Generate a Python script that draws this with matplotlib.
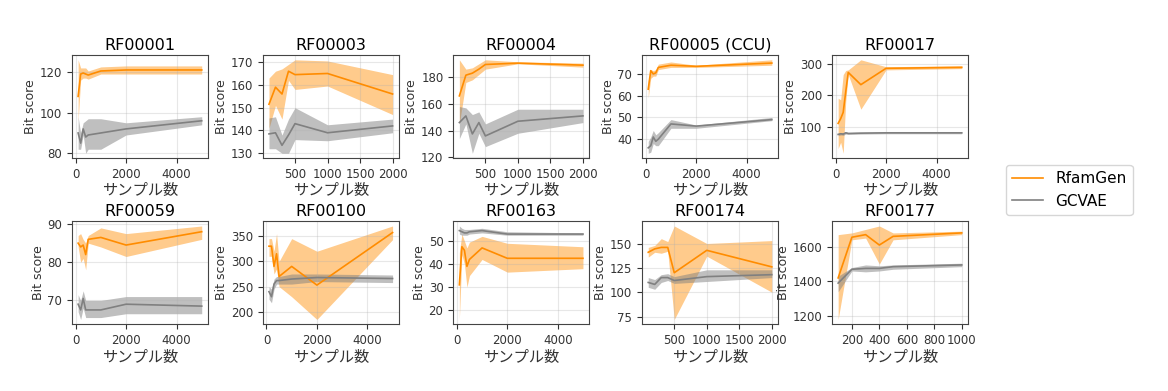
import matplotlib
matplotlib.use("Agg")
import matplotlib.pyplot as plt
from matplotlib.ticker import MultipleLocator

plt.rcParams['font.family'] = ['DejaVu Sans', 'Noto Sans CJK JP']

# サンプル数
x_5000 = [100, 200, 300, 400, 500, 1000, 2000, 5000]
x_2000 = [100, 200, 300, 400, 500, 1000, 2000]
x_1000 = [100, 200, 300, 400, 500, 1000]

titles = ['RF00001', 'RF00003', 'RF00004', 'RF00005 (CCU)', 'RF00017',
          'RF00059', 'RF00100', 'RF00163', 'RF00174', 'RF00177']
xs = [x_5000, x_2000, x_2000, x_5000, x_5000,
      x_5000, x_5000, x_5000, x_2000, x_1000]

# RfamGen: 平均, 下限, 上限
rfam_mean = [
    [108, 119, 119.5, 119, 118.5, 120.5, 121, 121],
    [151.5, 159, 156, 166, 164.5, 165, 156],
    [166, 181.5, 183, 186, 189.5, 190.5, 189],
    [63, 71.5, 70, 70.5, 73, 74, 73.5, 75],
    [110, 125, 145, 210, 272, 233, 285, 288],
    [85, 84, 84.5, 82, 86, 86.5, 84.5, 88],
    [330, 330, 290, 315, 270, 290, 253, 357],
    [31, 47.5, 46, 39, 42, 47, 42.5, 42.5],
    [141, 144.5, 146, 146, 120, 143, 126],
    [1420, 1655, 1670, 1610, 1660, 1680],
]
rfam_lo = [
    [96, 116, 117, 117, 116.5, 119, 119, 119],
    [141, 151, 145, 162, 158, 159.5, 147],
    [145, 176, 178, 182, 186, 190, 187.5],
    [59, 68, 69, 69, 72, 73, 73, 74],
    [30, 50, 15, 180, 265, 155, 280, 284],
    [84, 80, 81, 78, 85, 84, 81.5, 86],
    [310, 310, 275, 285, 250, 230, 185, 343],
    [16, 44, 40, 30, 35, 42, 36.5, 38],
    [136, 141, 140, 142, 72, 137, 100],
    [1180, 1640, 1650, 1500, 1640, 1670],
]
rfam_hi = [
    [126, 122, 122, 122, 120.5, 122.5, 123, 123],
    [163, 166, 167, 169, 171, 170.5, 164.5],
    [193, 186, 187, 190, 193, 191.5, 190.5],
    [67, 72, 71.5, 72, 74.5, 75.5, 74, 76.5],
    [190, 185, 265, 278, 280, 312, 290, 293],
    [87, 87.5, 86, 85, 87, 89, 87.5, 89.5],
    [345, 345, 320, 355, 300, 345, 320, 370],
    [45, 53, 50, 47, 49.5, 52, 49, 47.5],
    [146, 148, 155, 152, 168, 150, 153],
    [1670, 1680, 1700, 1720, 1680, 1690],
]

# GCVAE: 平均, 下限, 上限
gcvae_mean = [
    [90, 85, 92, 88, 89, 90, 92, 96],
    [138.5, 139, 133.5, 138, 143, 139, 142],
    [146, 151, 137.5, 146, 136, 147, 151],
    [36, 37, 41, 39, 40, 47, 46, 49],
    [75, 77, 76, 80, 78, 79, 80, 80],
    [69, 67.5, 70.5, 67.5, 67.5, 67.5, 69, 68.5],
    [240, 230, 255, 262, 262, 265, 268, 266],
    [54.5, 54, 53.5, 53.5, 54, 54.5, 53, 53],
    [110, 108, 115, 115, 112, 116, 118],
    [1390, 1470, 1475, 1475, 1485, 1495],
]
gcvae_lo = [
    [82, 82, 89, 80, 82, 82, 89, 94],
    [132, 132, 130, 130, 136, 135.5, 139],
    [134, 145, 123, 138, 128, 138, 146],
    [33.5, 34, 38, 37, 37, 45, 45, 48.5],
    [71, 73, 72, 76, 75, 76, 77, 77],
    [67, 65, 68, 65.5, 65.5, 65.5, 66.5, 66.5],
    [225, 218, 245, 255, 255, 255, 260, 258],
    [53, 52.5, 52.5, 52.5, 53, 53.5, 52.5, 52.5],
    [105, 103, 110, 112, 109, 111, 115],
    [1340, 1460, 1455, 1460, 1470, 1485],
]
gcvae_hi = [
    [98, 90, 95, 96, 97, 97, 95, 98],
    [145.5, 146, 138, 145, 150, 142.5, 145],
    [158, 157, 152, 154, 145, 156, 156],
    [39, 41, 44, 42, 43, 49, 46.5, 50],
    [79, 81, 80, 84, 81, 82, 83, 83],
    [71.5, 70, 72.5, 70, 70, 70, 71, 71],
    [250, 245, 265, 270, 270, 275, 275, 273],
    [56.5, 55.5, 55, 55, 55, 55.5, 54, 53.5],
    [115, 113, 118, 119, 116, 123, 123],
    [1430, 1480, 1495, 1490, 1495, 1505],
]

# 目盛り間隔
ystep = [20, 10, 20, 10, 100, 10, 50, 10, 25, 200]
xstep = [2000, 500, 500, 2000, 2000, 2000, 2000, 2000, 500, 200]

orange = '#ff8c00'
grey = '#808080'

fig = plt.figure(figsize=(11.68, 3.91), dpi=100)

lefts = [0.0616, 0.225, 0.388, 0.5497, 0.7123]
bottoms = [0.596, 0.171]
w, h = 0.1164, 0.263

for i, title in enumerate(titles):
    row, col = divmod(i, 5)
    ax = fig.add_axes([lefts[col], bottoms[row], w, h])
    x = xs[i]
    ax.fill_between(x, rfam_lo[i], rfam_hi[i], color=orange, alpha=0.45, linewidth=0)
    ax.plot(x, rfam_mean[i], color=orange, linewidth=1.2, label='RfamGen')
    ax.fill_between(x, gcvae_lo[i], gcvae_hi[i], color=grey, alpha=0.5, linewidth=0)
    ax.plot(x, gcvae_mean[i], color=grey, linewidth=1.2, label='GCVAE')
    ax.yaxis.set_major_locator(MultipleLocator(ystep[i]))
    ax.xaxis.set_major_locator(MultipleLocator(xstep[i]))
    ax.set_title(title, fontsize=11.5, pad=4)
    ax.set_xlabel('サンプル数', fontsize=11, color='#333333', labelpad=2)
    ax.set_ylabel('Bit score', fontsize=9, color='#333333', labelpad=2)
    ax.tick_params(labelsize=8.5, colors='#333333')
    ax.grid(True, alpha=0.3)
    for s in ax.spines.values():
        s.set_color('#444444')
    if i == 0:
        handles, labels = ax.get_legend_handles_labels()

fig.legend(handles, labels, loc='center left', bbox_to_anchor=(0.855, 0.514),
           fontsize=11, frameon=True)

fig.savefig('out.png', dpi=100, facecolor='white')
